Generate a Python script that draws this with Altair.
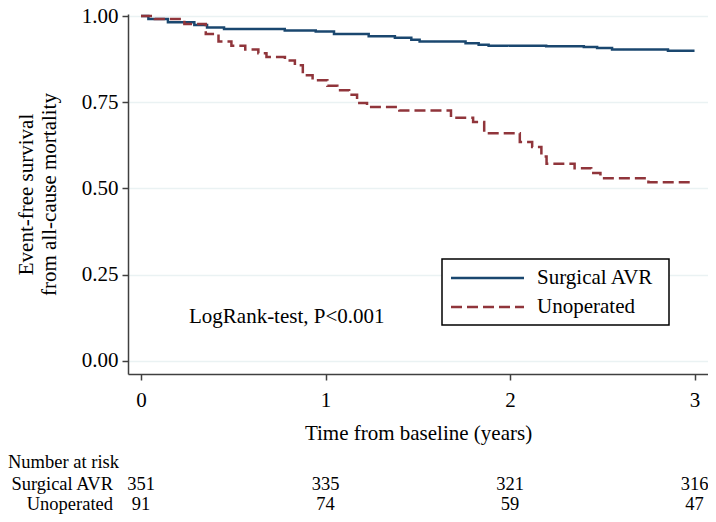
import altair as alt
import pandas as pd

# ---- data ----
avr_t = [0, 0.04, 0.146, 0.289, 0.358, 0.45, 0.779, 0.947, 1.046, 1.234, 1.376,
         1.465, 1.51, 1.759, 1.83, 1.884, 2.196, 2.40, 2.472, 2.553, 2.856, 3.0]
avr_s = [1.0, 0.991, 0.982, 0.974, 0.967, 0.962, 0.958, 0.955, 0.948, 0.941, 0.937,
         0.931, 0.926, 0.921, 0.917, 0.914, 0.912, 0.910, 0.907, 0.903, 0.899, 0.899]

unop_t = [0, 0.075, 0.235, 0.351, 0.42, 0.49, 0.565, 0.636, 0.68, 0.78, 0.834,
          0.877, 0.93, 1.01, 1.064, 1.128, 1.171, 1.225, 1.40, 1.68, 1.80, 1.86,
          2.053, 2.12, 2.17, 2.198, 2.35, 2.44, 2.49, 2.75, 3.0]
unop_s = [1.0, 0.991, 0.977, 0.948, 0.926, 0.914, 0.903, 0.892, 0.881, 0.871, 0.857,
          0.828, 0.814, 0.798, 0.785, 0.772, 0.748, 0.736, 0.726, 0.705, 0.693, 0.660,
          0.635, 0.620, 0.593, 0.572, 0.559, 0.545, 0.530, 0.518, 0.518]

groups = ["Surgical AVR", "Unoperated"]
colors = ["#1a476f", "#90353b"]

risk_times = [0, 1, 2, 3]
risk_avr = [351, 335, 321, 316]
risk_unop = [91, 74, 59, 47]

x_ticks = [0, 1, 2, 3]
y_ticks = [0.0, 0.25, 0.5, 0.75, 1.0]

annot_text = ["LogRank-test, P<0.001"]
annot_t = [0.79]
annot_s = [0.127]

FONT = "Liberation Serif"

curves = pd.DataFrame(
    {"t": avr_t + unop_t,
     "s": avr_s + unop_s,
     "group": [groups[0]] * len(avr_t) + [groups[1]] * len(unop_t)}
)

xscale = alt.Scale(domain=[-0.0705, 3.073], nice=False, zero=False)
yscale = alt.Scale(domain=[-0.0377, 1.0058], nice=False, zero=False)
cscale = alt.Scale(domain=groups, range=colors)
dscale = alt.Scale(domain=groups, range=[[1, 0], [11, 5]])

lines = alt.Chart(curves).mark_line(interpolate="step-after", strokeWidth=2.5).encode(
    x=alt.X("t:Q", scale=xscale,
            axis=alt.Axis(values=x_ticks, format="d", title="Time from baseline (years)",
                          grid=False, labelPadding=9, titlePadding=12)),
    y=alt.Y("s:Q", scale=yscale,
            axis=alt.Axis(values=y_ticks, format=".2f",
                          title=["Event-free survival", "from all-cause mortality"],
                          grid=True, labelPadding=4, titlePadding=22,
                          titleLineHeight=23)),
    color=alt.Color("group:N", scale=cscale, legend=None),
    strokeDash=alt.StrokeDash("group:N", scale=dscale, legend=None),
    order=alt.Order("t:Q"),
)

annot = alt.Chart(pd.DataFrame({"t": annot_t, "s": annot_s, "txt": annot_text})).mark_text(
    font=FONT, fontSize=21, color="black", align="center", baseline="middle"
).encode(x=alt.X("t:Q", scale=xscale), y=alt.Y("s:Q", scale=yscale), text="txt:N")

# ---- legend drawn as marks ----
leg_df = pd.DataFrame({"group": groups, "row": [264, 293]})
leg_box = alt.Chart(pd.DataFrame({"a": [0]})).mark_rect(
    fill="white", stroke="black", strokeWidth=1.5
).encode(x=alt.value(314), x2=alt.value(541), y=alt.value(245), y2=alt.value(311))
leg_lines = alt.Chart(leg_df).mark_rule(strokeWidth=2.5).encode(
    x=alt.value(323), x2=alt.value(396), y=alt.Y("row:Q", scale=None),
    color=alt.Color("group:N", scale=cscale, legend=None),
    strokeDash=alt.StrokeDash("group:N", scale=dscale, legend=None),
)
leg_text = alt.Chart(leg_df).mark_text(
    font=FONT, fontSize=21, color="black", align="left", baseline="middle"
).encode(x=alt.value(409), y=alt.Y("row:Q", scale=None), text="group:N")

# ---- number at risk table ----
risk_df = pd.DataFrame({"t": risk_times, "avr": risk_avr, "unop": risk_unop})
risk_avr_txt = alt.Chart(risk_df).mark_text(
    font=FONT, fontSize=18.5, color="black", align="center", baseline="middle"
).encode(x=alt.X("t:Q", scale=xscale), y=alt.value(470), text="avr:Q")
risk_unop_txt = alt.Chart(risk_df).mark_text(
    font=FONT, fontSize=18.5, color="black", align="center", baseline="middle"
).encode(x=alt.X("t:Q", scale=xscale), y=alt.value(490), text="unop:Q")

row_labels = pd.DataFrame({"lab": groups, "row": [470, 490]})
row_txt = alt.Chart(row_labels).mark_text(
    font=FONT, fontSize=18.5, color="black", align="right", baseline="middle"
).encode(x=alt.value(-15), y=alt.Y("row:Q", scale=None), text="lab:N")

head = alt.Chart(pd.DataFrame({"lab": ["Number at risk"]})).mark_text(
    font=FONT, fontSize=18.5, color="black", align="left", baseline="middle"
).encode(x=alt.value(-120), y=alt.value(448), text="lab:N")

chart = alt.layer(lines, annot, leg_box, leg_lines, leg_text,
                  risk_avr_txt, risk_unop_txt, row_txt, head).properties(
    width=580, height=360,
    autosize=alt.AutoSizeParams(type="none"),
    padding={"left": 120, "top": 6, "right": 0, "bottom": 140},
    background="white",
).configure_view(stroke=None).configure_axis(
    labelFont=FONT, titleFont=FONT, labelFontSize=21, titleFontSize=21,
    labelColor="black", titleColor="black", titleFontWeight="normal",
    domainColor="#404040", domainWidth=1.5, tickColor="#404040", tickWidth=1.5,
    tickSize=6, gridColor="#eaf2f3", gridWidth=1.5,
)

chart.save("out.html", embed_options={"renderer": "svg", "actions": False})
